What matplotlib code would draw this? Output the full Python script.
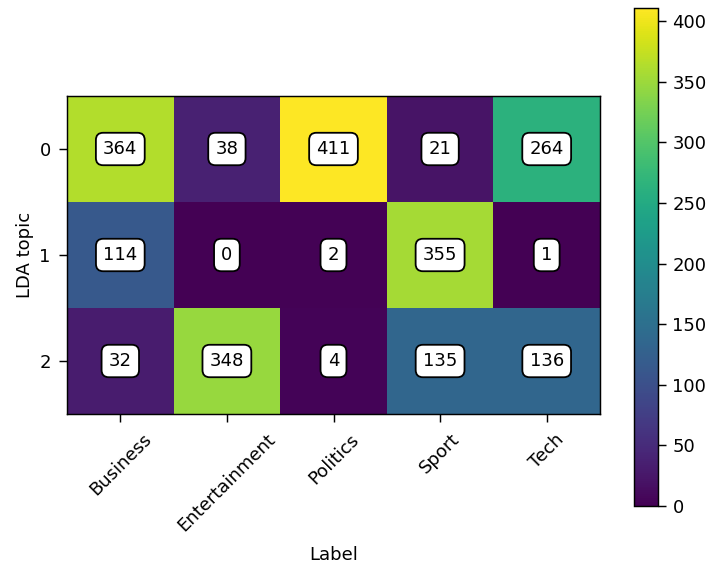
import numpy as np
import matplotlib
matplotlib.use("Agg")
import matplotlib.pyplot as plt

labels = ["Business", "Entertainment", "Politics", "Sport", "Tech"]
topics = ["0", "1", "2"]
counts = np.array([
    [364, 38, 411, 21, 264],
    [114, 0, 2, 355, 1],
    [32, 348, 4, 135, 136],
])

W, H = 707, 565
DPI = 130
fig = plt.figure(figsize=(W / DPI, H / DPI), dpi=DPI)
ax = fig.add_axes([67 / W, 1 - 414 / H, 533 / W, 318 / H])
cax = fig.add_axes([634 / W, 1 - 506 / H, 24 / W, 498 / H])

im = ax.imshow(counts, cmap="viridis", aspect="auto")
fig.colorbar(im, cax=cax)
cax.tick_params(length=4.5)

ax.set_xticks(range(len(labels)))
ax.set_xticklabels(labels, rotation=45, ha="center")
ax.set_yticks(range(len(topics)))
ax.set_yticklabels(topics)
ax.tick_params(length=4.5, pad=4.5)
ax.set_xlabel("Label", labelpad=6)
ax.set_ylabel("LDA topic", labelpad=3)

for i in range(counts.shape[0]):
    for j in range(counts.shape[1]):
        ax.text(j, i, str(counts[i, j]), ha="center", va="center", fontsize=10,
                bbox=dict(boxstyle="round,pad=0.4", facecolor="white", edgecolor="black"))

fig.savefig("out.png", dpi=DPI)
